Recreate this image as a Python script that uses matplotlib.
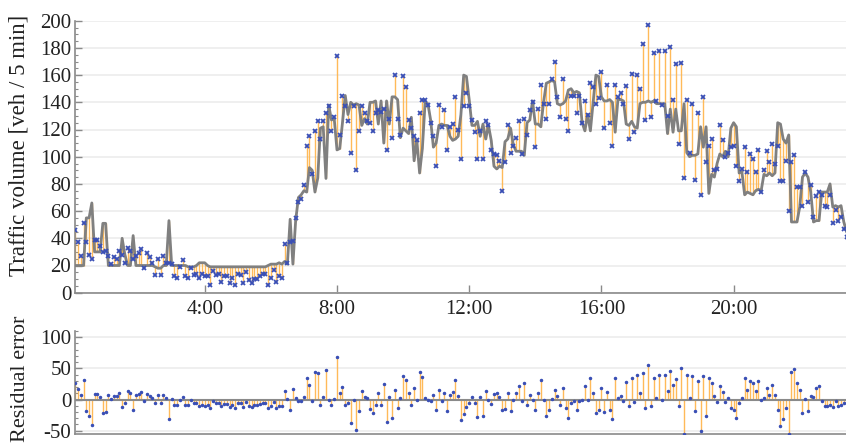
import numpy as np
import matplotlib
matplotlib.use("Agg")
import matplotlib.pyplot as plt
from matplotlib.ticker import MultipleLocator, FixedLocator, FuncFormatter

plt.rcParams['font.family'] = ['Liberation Serif', 'DejaVu Serif']
plt.rcParams['axes.unicode_minus'] = False

# 5-minute traffic counts (veh / 5 min), starting at 0:05
observed = [
    46, 37, 27, 51, 37, 28, 25, 39, 39, 34,
    30, 31, 27, 21, 26, 25, 31, 28, 22, 33,
    31, 25, 27, 29, 32, 18, 29, 26, 22, 13,
    25, 13, 27, 22, 22, 21, 12, 11, 19, 24,
    12, 11, 18, 13, 14, 11, 14, 12, 12, 6,
    16, 13, 14, 8, 12, 12, 7, 11, 6, 14,
    13, 7, 15, 9, 7, 10, 10, 12, 14, 14,
    6, 11, 17, 8, 12, 11, 36, 22, 37, 38,
    55, 67, 69, 79, 108, 115, 87, 119, 126, 113,
    126, 132, 137, 119, 129, 174, 116, 145, 137, 126,
    103, 137, 90, 119, 137, 132, 126, 125, 119, 132,
    134, 133, 135, 105, 128, 114, 160, 128, 116, 159,
    151, 127, 121, 115, 112, 132, 142, 142, 138, 125,
    115, 93, 138, 122, 134, 105, 122, 124, 144, 120,
    98, 137, 147, 137, 127, 118, 98, 119, 98, 126,
    123, 105, 102, 101, 97, 75, 96, 123, 103, 108,
    114, 126, 102, 128, 116, 134, 140, 107, 135, 153,
    139, 128, 139, 157, 170, 144, 129, 157, 128, 119,
    145, 145, 132, 145, 125, 141, 131, 154, 151, 139,
    143, 162, 121, 153, 125, 108, 153, 144, 147, 139,
    152, 113, 161, 118, 160, 150, 183, 127, 197, 129,
    176, 141, 178, 138, 178, 130, 181, 142, 168, 109,
    169, 84, 142, 103, 139, 83, 132, 72, 144, 96,
    108, 113, 90, 91, 123, 112, 100, 103, 107, 108,
    93, 82, 91, 107, 89, 102, 98, 89, 105, 74,
    90, 104, 96, 109, 95, 108, 82, 82, 97, 60,
    96, 101, 78, 78, 64, 89, 67, 79, 56, 71,
    74, 72, 64, 63, 72, 51, 61, 53, 56, 47, 41,
]

# model forecast for the same intervals
predicted = [
    20, 20, 20, 20, 55, 55, 66, 30, 30, 30,
    51, 51, 20, 20, 20, 20, 20, 40, 28, 20,
    20, 42, 20, 20, 20, 20, 20, 20, 20, 19,
    18, 18, 20, 20, 53, 20, 20, 20, 20, 20,
    20, 19, 19, 19, 20, 22, 22, 22, 20, 19,
    19, 19, 19, 19, 19, 19, 19, 19, 19, 19,
    19, 19, 19, 19, 19, 19, 19, 19, 19, 19,
    20, 21, 21, 21, 22, 21, 23, 21, 54, 21,
    53, 70, 72, 75, 74, 92, 90, 74, 84, 121,
    122, 84, 138, 127, 128, 105, 106, 125, 145, 131,
    140, 138, 139, 138, 123, 128, 124, 140, 140, 141,
    124, 141, 110, 141, 124, 144, 144, 142, 114, 121,
    119, 117, 129, 97, 112, 88, 106, 140, 139, 127,
    107, 110, 123, 124, 123, 123, 115, 112, 113, 115,
    131, 160, 159, 142, 123, 123, 126, 115, 124, 113,
    123, 112, 93, 91, 93, 92, 111, 113, 121, 109,
    104, 104, 104, 101, 125, 127, 141, 124, 124, 122,
    140, 154, 155, 156, 155, 139, 138, 139, 141, 149,
    150, 147, 148, 147, 125, 119, 131, 119, 140, 160,
    159, 144, 141, 141, 142, 140, 118, 142, 142, 141,
    124, 123, 126, 122, 121, 139, 140, 140, 141, 140,
    141, 139, 139, 139, 139, 117, 135, 118, 135, 119,
    119, 139, 103, 100, 101, 101, 102, 122, 107, 122,
    73, 87, 85, 95, 102, 100, 104, 100, 121, 125,
    122, 88, 89, 72, 74, 73, 72, 75, 76, 75,
    87, 86, 88, 86, 88, 125, 124, 113, 110, 116,
    52, 52, 52, 63, 85, 88, 85, 74, 52, 53,
    53, 74, 74, 74, 80, 63, 64, 63, 64, 52, 45,
]

interval_minutes = 5
hour_ticks = [4, 8, 12, 16, 20]

obs = np.array(observed, dtype=float)
pred = np.array(predicted, dtype=float)
hours = np.arange(1, len(obs) + 1) * interval_minutes / 60.0
residual = obs - pred

W, H = 846, 443
fig = plt.figure(figsize=(W / 100, H / 100), dpi=100)

left = 75.3 / W
width = 1.0 - left
ax1 = fig.add_axes([left, 1 - 292.7 / H, width, (292.7 - 20.7) / H])
ax2 = fig.add_axes([left, 1 - 434.0 / H, width, (434.0 - 331.0) / H])

axis_gray = '#8a8a8a'
grid_gray = '#ececec'
stem_orange = '#ffb347'
marker_blue = '#3a4fb5'
line_gray = '#808080'
text_col = '#222222'
fs = 15
label_fs = 16.5

xlim = (1 / 12, 23.40)

# --- top panel: forecast vs. observations ---
ax1.vlines(hours, pred, obs, colors=stem_orange, lw=1.0, alpha=0.9, zorder=2)
ax1.plot(hours, pred, color=line_gray, lw=2.0, zorder=3, solid_joinstyle='round')
ax1.plot(hours, obs, linestyle='none', marker='x', ms=3.4, mew=1.3,
         color=marker_blue, zorder=4)
ax1.set_xlim(*xlim)
ax1.set_ylim(0, 200)
ax1.yaxis.set_major_locator(MultipleLocator(20))
ax1.yaxis.set_minor_locator(MultipleLocator(5))
ax1.xaxis.set_major_locator(FixedLocator(hour_ticks))
ax1.xaxis.set_major_formatter(FuncFormatter(lambda v, p: f"{int(v)}:00"))
ax1.set_ylabel('Traffic volume [veh / 5 min]', fontsize=label_fs, color=text_col)

# --- bottom panel: residuals ---
ax2.axhline(0, color=axis_gray, lw=1.5, zorder=3)
ax2.vlines(hours, 0, residual, colors=stem_orange, lw=1.0, alpha=0.9, zorder=2)
ax2.plot(hours, residual, linestyle='none', marker='o', ms=1.5,
         color=marker_blue, zorder=4)
ax2.set_xlim(*xlim)
ax2.set_ylim(-55.3, 110)
ax2.yaxis.set_major_locator(FixedLocator([-50, 0, 50, 100]))
ax2.yaxis.set_minor_locator(MultipleLocator(10))
ax2.xaxis.set_major_locator(FixedLocator([]))
ax2.set_ylabel('Residual error', fontsize=16, color=text_col)

for ax in (ax1, ax2):
    for side in ('top', 'right'):
        ax.spines[side].set_visible(False)
    for side in ('left', 'bottom'):
        ax.spines[side].set_color(axis_gray)
        ax.spines[side].set_linewidth(1.2)
    ax.tick_params(axis='both', which='major', direction='in', length=5,
                   width=1.0, color=axis_gray, labelsize=fs, labelcolor=text_col)
    ax.tick_params(axis='y', which='major', pad=3)
    ax.tick_params(axis='y', which='minor', direction='in', length=2.5,
                   width=0.8, color=axis_gray)
    ax.tick_params(axis='x', which='major', length=6, pad=5)
    ax.grid(axis='y', which='major', color=grid_gray, lw=1.2, zorder=0)
    ax.set_axisbelow(True)

ax1.yaxis.set_label_coords(-0.059, 0.543)
ax2.yaxis.set_label_coords(-0.059, 0.535)

fig.savefig('out.png', dpi=100)
